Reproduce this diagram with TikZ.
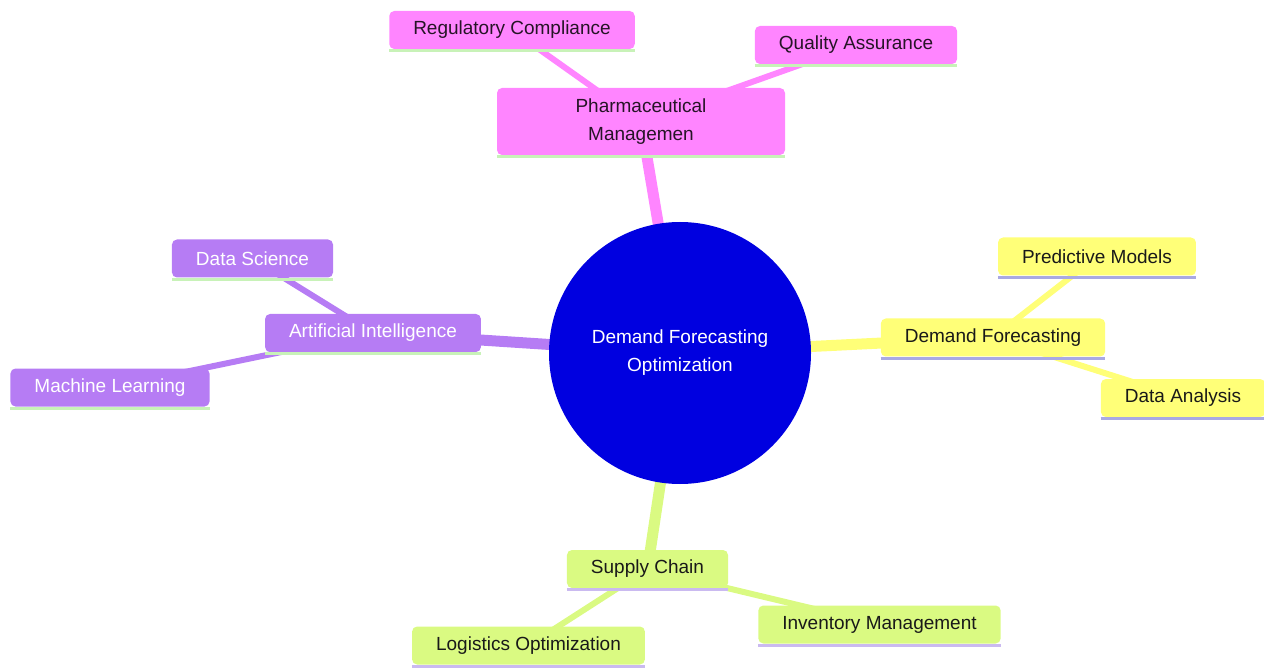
\documentclass[tikz,border=0pt]{standalone}
\usepackage{fontspec}
\setmainfont{Liberation Sans}
\usetikzlibrary{positioning, backgrounds}
\definecolor{rootblue}{HTML}{0000E0}
\definecolor{pinkfill}{HTML}{FF85FF}
\definecolor{purplefill}{HTML}{B67CF4}
\definecolor{yellowfill}{HTML}{FFFF78}
\definecolor{greenfill}{HTML}{DAFA82}
\definecolor{greenline}{HTML}{C8F2B8}
\definecolor{lilacline}{HTML}{A9A9E3}
\definecolor{lavline}{HTML}{CABAF0}
\tikzset{
  on grid,
  every node/.style={font=\fontsize{19}{28}\selectfont},
  topic/.style={rectangle, rounded corners=5pt, inner xsep=24pt, inner ysep=4pt,
    minimum height=38pt, align=center},
  pinktopic/.style={topic, fill=pinkfill, text=black!85!pinkfill},
  purpletopic/.style={topic, fill=purplefill, text=white},
  yellowtopic/.style={topic, fill=yellowfill, text=black!90},
  greentopic/.style={topic, fill=greenfill, text=black!90},
  centre/.style={circle, fill=rootblue, text=white, minimum size=262pt, align=center},
  mainlink/.style={line width=11pt},
  link/.style={line width=6pt},
}

\begin{document}
\begin{tikzpicture}
  \useasboundingbox (0pt,0pt) rectangle (1264pt,-668pt);

  % nodes
  \node[centre] (root) at (680pt,-353pt) {Demand Forecasting\\Optimization};

  \node[pinktopic, minimum width=288pt, minimum height=67pt, above left=231.5pt and 39pt of root] (pm) {Pharmaceutical\\Managemen};
  \node[pinktopic, above left=91.5pt and 129pt of pm] (rc) {Regulatory Compliance};
  \node[pinktopic, above right=76.5pt and 215pt of pm] (qa) {Quality Assurance};

  \node[purpletopic, above left=20pt and 307pt of root] (ai) {Artificial Intelligence};
  \node[purpletopic, above left=74.5pt and 120.5pt of ai] (ds) {Data Science};
  \node[purpletopic, below left=54.5pt and 263pt of ai] (ml) {Machine Learning};

  \node[yellowtopic, above right=15.5pt and 313pt of root] (df) {Demand Forecasting};
  \node[yellowtopic, above right=81pt and 104pt of df] (pmod) {Predictive Models};
  \node[yellowtopic, below right=60.5pt and 190pt of df] (da) {Data Analysis};

  \node[greentopic, below left=216pt and 32.5pt of root] (sc) {Supply Chain};
  \node[greentopic, below left=76.5pt and 119pt of sc] (lo) {Logistics Optimization};
  \node[greentopic, below right=55.5pt and 232pt of sc] (im) {Inventory Management};

  % underlines
  \foreach \n/\c in {pm/greenline, rc/greenline, qa/greenline, ai/greenline, ds/greenline, ml/greenline,
                     df/lilacline, pmod/lilacline, da/lilacline, sc/lavline, lo/lavline, im/lavline}
    \draw[\c, line width=3pt] ([yshift=-1.5pt]\n.south west) -- ([yshift=-1.5pt]\n.south east);

  % links
  \begin{scope}[on background layer]
    \draw[mainlink, pinkfill] (root.center) -- (pm.center);
    \draw[link, pinkfill] (pm.center) -- (rc.center)
      (pm.center) -- (qa.center);
    \draw[mainlink, purplefill] (root.center) -- (ai.center);
    \draw[link, purplefill] (ai.center) -- (ds.center)
      (ai.center) -- (ml.center);
    \draw[mainlink, yellowfill] (root.center) -- (df.center);
    \draw[link, yellowfill] (df.center) -- (pmod.center)
      (df.center) -- (da.center);
    \draw[mainlink, greenfill] (root.center) -- (sc.center);
    \draw[link, greenfill] (sc.center) -- (lo.center)
      (sc.center) -- (im.center);
  \end{scope}
\end{tikzpicture}
\end{document}
